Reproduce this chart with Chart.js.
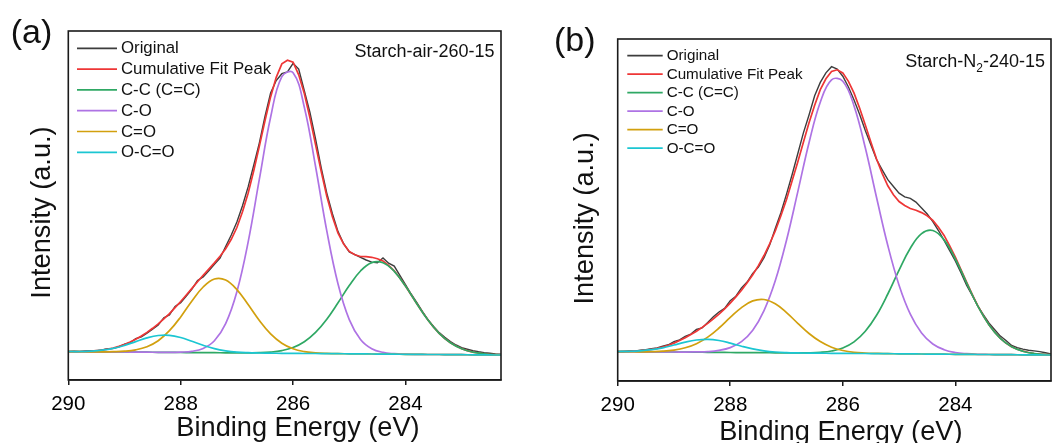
<!DOCTYPE html>
<html>
<head>
<meta charset="utf-8">
<script src="https://cdn.jsdelivr.net/npm/chart.js@4.4.1/dist/chart.umd.min.js"></script>
<style>
html,body{margin:0;padding:0;background:#fff;}
#wrap{position:relative;width:1061px;height:443px;overflow:hidden;background:#fff;}
canvas{position:absolute;top:0;}
#cA{left:0;}
#cB{left:530px;}
</style>
</head>
<body>
<div id="wrap"><canvas id="cA" width="530" height="443"></canvas><canvas id="cB" width="531" height="443"></canvas></div>
<script>
// binding energy grids (eV)
const energy=[290.0,289.8,289.6,289.4,289.2,289.0,288.8,288.6,288.4,288.2,288.0,287.8,287.6,287.4,287.2,287.0,286.8,286.6,286.4,286.2,
 286.0,285.8,285.6,285.4,285.2,285.0,284.8,284.6,284.4,284.2,284.0,283.8,283.6,283.4,283.2,283.0,282.8,282.6,282.4,282.2];
const energyFine=[290.0,289.9,289.8,289.7,289.6,289.5,289.4,289.3,289.2,289.1,289.0,288.9,288.8,288.7,288.6,288.5,288.4,288.3,288.2,288.1,
 288.0,287.9,287.8,287.7,287.6,287.5,287.4,287.3,287.2,287.1,287.0,286.9,286.8,286.7,286.6,286.5,286.4,286.3,286.2,286.1,
 286.0,285.9,285.8,285.7,285.6,285.5,285.4,285.3,285.2,285.1,285.0,284.9,284.8,284.7,284.6,284.5,284.4,284.3,284.2,284.1,
 284.0,283.9,283.8,283.7,283.6,283.5,283.4,283.3,283.2,283.1,283.0,282.9,282.8,282.7,282.6,282.5,282.4,282.3];
const xTicks=[290,288,286,284];

// (a) Starch-air-260-15
const origA=[1.5,2.0,1.7,2.3,2.6,2.4,3.4,4.5,4.9,6.4,
 9.1,10.6,14.6,16.4,20.2,24.1,28.2,35.6,38.4,46.9,
 50.6,57.2,64.1,72.8,76.4,82.6,89.0,95.1,106.8,118.3,
 131.2,147.6,166.4,188.1,210.5,236.9,260.2,272.8,279.6,281.5,
 290.0,284.3,262.6,240.8,214.3,185.7,160.2,139.6,121.7,109.6,
 101.4,98.7,96.0,93.3,91.2,90.6,95.4,90.1,87.2,77.9,
 68.6,59.3,50.8,41.9,33.6,26.8,20.7,15.9,11.7,8.3,
 5.6,4.1,2.6,1.5,0.6,0.1,-0.6,-1.0];
const fitA=[1.8,1.8,1.8,2.0,2.2,2.6,3.1,4.1,5.2,6.9,
 8.8,11.3,14.0,17.3,20.9,25.0,29.4,34.5,39.7,45.7,
 51.8,58.3,64.9,71.5,78.0,84.1,90.4,97.1,104.5,114.0,
 125.8,141.5,160.1,182.5,207.2,232.5,256.4,276.0,289.5,293.0,
 291.1,278.5,259.8,235.5,208.6,182.0,157.0,136.5,120.2,109.2,
 101.9,98.6,96.8,96.6,96.0,94.6,92.3,88.0,82.5,75.3,
 67.3,58.5,49.8,41.3,33.2,26.2,19.9,14.8,10.5,7.2,
 4.5,2.7,1.2,0.3,-0.5,-1.0,-1.3,-1.5];
const ccA=[1.7,1.6,1.5,1.4,1.3,1.3,1.2,1.1,1.0,0.9,0.8,0.7,0.6,0.6,0.5,0.5,0.5,0.6,1.2,2.7,
 5.8,11.6,20.9,34.1,50.5,67.7,82.3,90.7,90.6,82.0,67.2,49.8,33.2,19.9,10.5,4.5,1.2,-0.5,-1.3,-1.6];
const coA=[1.7,1.6,1.5,1.4,1.3,1.3,1.2,1.1,1.0,0.9,1.2,2.0,4.9,12.6,29.7,61.6,111.2,174.1,236.0,276.7,
 280.6,246.1,186.8,122.4,69.3,33.7,13.9,4.6,0.9,-0.4,-0.9,-1.1,-1.2,-1.2,-1.3,-1.4,-1.5,-1.6,-1.7,-1.7];
const c2oA=[1.7,1.6,1.5,1.4,1.6,2.1,3.5,6.6,12.6,22.6,36.4,52.3,66.3,74.3,73.3,63.7,48.7,32.8,19.4,10.1,
 4.5,1.7,0.5,-0.1,-0.4,-0.5,-0.6,-0.7,-0.8,-0.9,-1.0,-1.1,-1.2,-1.2,-1.3,-1.4,-1.5,-1.6,-1.7,-1.7];
const ocoA=[1.8,1.8,2.2,3.1,4.9,7.9,11.7,15.4,17.8,18.0,15.8,12.0,8.0,4.7,2.5,1.2,0.6,0.3,0.1,0.0,
 -0.1,-0.2,-0.2,-0.3,-0.4,-0.5,-0.6,-0.7,-0.8,-0.9,-1.0,-1.1,-1.2,-1.2,-1.3,-1.4,-1.5,-1.6,-1.7,-1.7];

// (b) Starch-N2-240-15
const origB=[1.4,1.6,2.5,2.1,3.2,3.5,4.6,5.4,7.2,8.5,
 11.6,13.4,16.9,19.2,23.8,25.4,30.8,36.5,41.3,44.9,
 52.6,57.1,65.4,71.2,79.9,86.1,95.6,108.2,124.8,140.6,
 159.2,178.8,199.5,220.4,238.3,257.6,270.9,280.4,286.6,284.2,
 277.1,266.3,253.4,238.9,222.7,208.4,193.8,183.5,173.6,166.8,
 160.2,156.4,154.9,151.2,145.3,139.4,131.6,122.8,113.0,102.7,
 92.4,80.6,68.1,57.9,47.2,38.5,30.1,23.6,17.2,12.8,
 7.8,5.6,4.2,3.1,2.4,1.7,0.6,-0.6];
const fitB=[1.8,1.9,2.0,2.2,2.5,3.1,3.9,5.0,6.3,8.1,
 10.2,12.7,15.5,18.7,22.1,25.9,29.9,34.4,39.2,44.5,
 50.2,56.4,63.0,70.5,78.6,87.7,97.8,109.5,122.3,137.5,
 153.7,172.5,191.3,211.0,230.5,248.0,263.6,274.5,281.9,283.5,
 280.4,272.0,260.2,245.0,228.2,211.0,194.3,180.0,167.5,158.5,
 151.8,147.8,144.8,143.0,140.7,137.5,132.9,126.1,117.9,107.5,
 96.1,83.8,71.2,59.0,47.4,37.3,28.4,21.0,14.9,10.2,
 6.6,4.0,2.1,0.8,-0.2,-0.8,-1.2,-1.4];
const ccB=[1.7,1.6,1.5,1.4,1.3,1.3,1.2,1.1,1.0,0.9,0.8,0.7,0.6,0.6,0.5,0.4,0.4,0.5,1.0,2.3,
 5.3,11.4,22.0,38.0,59.3,83.2,105.1,119.7,122.8,113.4,94.3,70.5,47.2,28.4,14.9,6.6,2.1,-0.2,-1.2,-1.5];
const coB=[1.7,1.6,1.5,1.4,1.3,1.3,1.2,1.4,1.7,2.9,5.7,11.6,23.0,42.7,72.5,113.1,161.4,210.6,251.1,273.5,
 272.1,247.4,205.5,155.8,107.8,68.1,39.1,20.3,9.3,3.6,0.8,-0.4,-1.0,-1.2,-1.3,-1.4,-1.5,-1.6,-1.7,-1.7];
const c2oB=[1.7,1.6,1.5,1.7,2.1,3.2,5.5,9.6,16.2,25.3,35.9,45.7,52.4,53.8,49.5,40.7,30.0,19.8,11.7,6.1,
 2.8,1.0,0.3,-0.1,-0.4,-0.5,-0.6,-0.7,-0.8,-0.9,-1.0,-1.1,-1.2,-1.2,-1.3,-1.4,-1.5,-1.6,-1.7,-1.7];
const ocoB=[1.8,2.0,2.5,3.6,5.5,8.3,11.2,13.3,14.0,12.8,10.2,7.1,4.4,2.5,1.3,0.7,0.4,0.2,0.1,0.0,
 -0.1,-0.2,-0.2,-0.3,-0.4,-0.5,-0.6,-0.7,-0.8,-0.9,-1.0,-1.1,-1.2,-1.2,-1.3,-1.4,-1.5,-1.6,-1.7,-1.7];

const seriesNames=['Original','Cumulative Fit Peak','C-C (C=C)','C-O','C=O','O-C=O'];
const seriesColors=['#3d3d3d','#ee3636','#2fa864','#ae73e4','#d2a00e','#1bc6d2'];

function pts(xs,ys){return xs.map((x,i)=>({x:x,y:ys[i]}));}

// frame, legend and all free text drawn on top of the plot
const panelText={
 id:'panelText',
 afterDraw(chart,args,o){
  const ctx=chart.ctx,a=chart.chartArea;
  ctx.save();
  ctx.strokeStyle='#1a1a1a';ctx.lineWidth=1.6;
  ctx.strokeRect(a.left,a.top,a.right-a.left,a.bottom-a.top);
  ctx.fillStyle='#111';
  // legend
  let L=o.legend;
  ctx.font=L.size+'px Arial, "Liberation Sans"';
  ctx.textAlign='left';ctx.textBaseline='middle';
  chart.data.datasets.forEach((d,i)=>{
   let y=L.y+i*L.gap;
   ctx.strokeStyle=d.borderColor;ctx.lineWidth=1.7;
   ctx.beginPath();ctx.moveTo(L.x0,y);ctx.lineTo(L.x1,y);ctx.stroke();
   ctx.fillText(d.label,L.tx,y+0.5);
  });
  // sample name, right aligned, with subscripts
  let S=o.sample,big=S.size+'px Arial, "Liberation Sans"',small=Math.round(S.size*0.68)+'px Arial, "Liberation Sans"';
  let w=0;
  S.parts.forEach(p=>{ctx.font=p[1]?small:big;w+=ctx.measureText(p[0]).width;});
  let x=S.right-w;
  S.parts.forEach(p=>{ctx.font=p[1]?small:big;ctx.fillText(p[0],x,S.y+(p[1]?6:0));x+=ctx.measureText(p[0]).width;});
  // panel letter
  ctx.font=o.tag.size+'px Arial, "Liberation Sans"';
  ctx.textAlign='center';ctx.textBaseline='alphabetic';
  ctx.fillText(o.tag.text,o.tag.x,o.tag.y);
  // axis titles
  ctx.font=o.titleSize+'px Arial, "Liberation Sans"';
  ctx.fillText('Binding Energy (eV)',o.xTitle.x,o.xTitle.y);
  ctx.translate(o.yTitle.x,o.yTitle.y);ctx.rotate(-Math.PI/2);
  ctx.fillText('Intensity (a.u.)',0,0);
  ctx.restore();
 }
};

function makeChart(id,sets,box,txt){
 let ds=sets.map((s,i)=>({
  label:seriesNames[i],data:pts(s[0],s[1]),borderColor:seriesColors[i],
  borderWidth:i===0?1.4:1.7,pointRadius:0,tension:i<2?0:0.4,fill:false,order:6-i
 }));
 return new Chart(document.getElementById(id),{
  type:'line',
  data:{datasets:ds},
  options:{
   responsive:false,animation:false,
   layout:{padding:{left:box.left,top:box.top,right:box.right,bottom:0}},
   plugins:{legend:{display:false},tooltip:{enabled:false},panelText:txt},
   scales:{
    x:{type:'linear',reverse:true,min:282.3,max:290,
     afterFit:s=>{s.height=box.axisH;},
     afterBuildTicks:s=>{s.ticks=xTicks.map(v=>({value:v}));},
     ticks:{color:'#000',font:{size:20.5,family:'Arial, "Liberation Sans"'},padding:7,maxRotation:0,callback:v=>v},
     grid:{display:true,drawOnChartArea:false,drawTicks:true,tickLength:5,color:'#1a1a1a',lineWidth:1.5},
     border:{display:true,color:'#1a1a1a',width:1.6}
    },
    y:{display:false,min:box.ymin,max:box.ymax}
   }
  },
  plugins:[panelText]
 });
}

makeChart('cA',
 [[energyFine,origA],[energyFine,fitA],[energy,ccA],[energy,coA],[energy,c2oA],[energy,ocoA]],
 {left:68.3,top:31,right:29,axisH:63,ymin:-26.7,ymax:322.3},
 {legend:{x0:77,x1:117,tx:121,y:48.3,gap:20.8,size:16.8},
  sample:{parts:[['Starch-air-260-15',0]],right:494.5,y:52.5,size:18},
  tag:{text:'(a)',x:31.5,y:43,size:34},
  titleSize:27.2,xTitle:{x:298,y:435.5},yTitle:{x:50,y:212.5}});

makeChart('cB',
 [[energyFine,origB],[energyFine,fitB],[energy,ccB],[energy,coB],[energy,c2oB],[energy,ocoB]],
 {left:87.7,top:39,right:10,axisH:62,ymin:-27.7,ymax:314.3},
 {legend:{x0:97.3,x1:132.7,tx:136.7,y:55.7,gap:18.5,size:15.2},
  sample:{parts:[['Starch-N',0],['2',1],['-240-15',0]],right:515,y:62.5,size:18},
  tag:{text:'(b)',x:44.7,y:51,size:34},
  titleSize:27.2,xTitle:{x:310.8,y:439.5},yTitle:{x:63.3,y:218.3}});
</script>
</body>
</html>
